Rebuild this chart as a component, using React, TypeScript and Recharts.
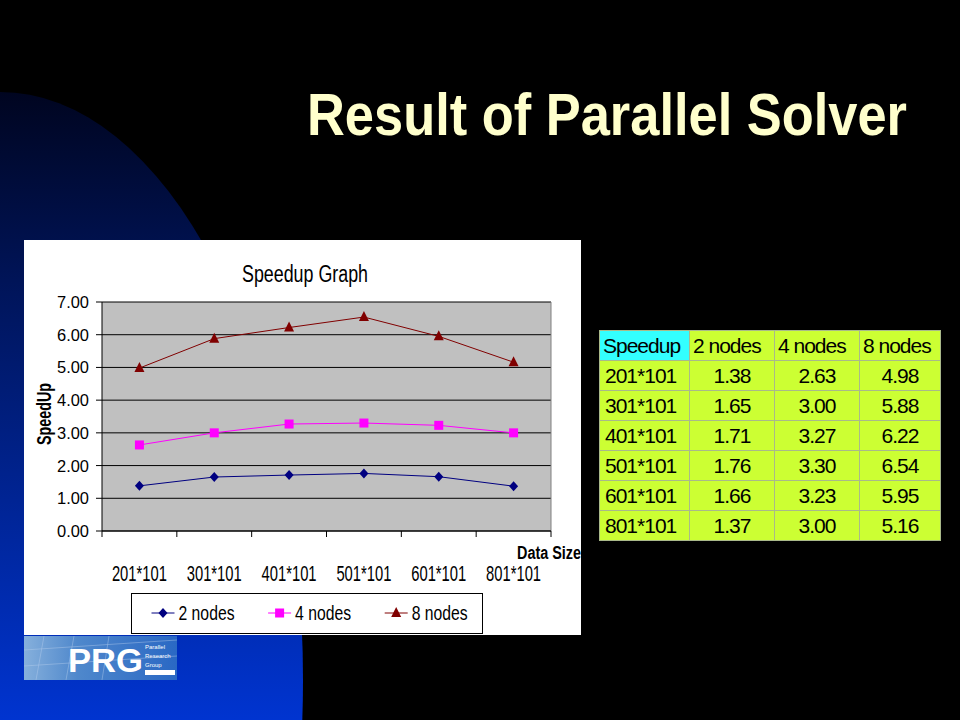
import React from 'react';
import { LineChart, Line, XAxis, YAxis, CartesianGrid, ReferenceLine } from 'recharts';

const dataSizes = ['201*101', '301*101', '401*101', '501*101', '601*101', '801*101'];
const nodes2 = [1.38, 1.65, 1.71, 1.76, 1.66, 1.37];
const nodes4 = [2.63, 3.0, 3.27, 3.3, 3.23, 3.0];
const nodes8 = [4.98, 5.88, 6.22, 6.54, 5.95, 5.16];
const seriesNames = ['2 nodes', '4 nodes', '8 nodes'];
const seriesColors = ['#000080', '#ff00ff', '#800000'];
const yTicks = [0, 1, 2, 3, 4, 5, 6, 7];

const chartData = dataSizes.map((size, i) => ({
  size,
  pos: i + 0.5,
  n2: nodes2[i],
  n4: nodes4[i],
  n8: nodes8[i],
}));

// boundaries (integers) get a tick mark, centres (halves) get the label
const xTicks = Array.from({ length: dataSizes.length * 2 + 1 }, (_, k) => k / 2);

const NARROW = '"Liberation Sans Narrow", "Arial Narrow", "Liberation Sans", Arial, sans-serif';
const SANS = '"Liberation Sans", Arial, sans-serif';

function XTick(props: any) {
  const { x, y, payload } = props;
  const v = payload.value as number;
  if (Number.isInteger(v)) {
    return <line x1={x} x2={x} y1={y} y2={y + 6} stroke="#000" />;
  }
  return (
    <text
      x={x}
      y={y + 50}
      textAnchor="middle"
      fontSize={22}
      fontFamily={NARROW}
      fill="#000"
      textLength={55}
      lengthAdjust="spacingAndGlyphs"
    >
      {dataSizes[Math.floor(v)]}
    </text>
  );
}

function YTick(props: any) {
  const { x, y, payload } = props;
  return (
    <text
      x={x}
      y={y + 6}
      textAnchor="end"
      fontSize={16}
      fontFamily={NARROW}
      fill="#000"
      textLength={32}
      lengthAdjust="spacingAndGlyphs"
    >
      {(payload.value as number).toFixed(2)}
    </text>
  );
}

function Marker({ kind, cx, cy, color }: { kind: number; cx: number; cy: number; color: string }) {
  if (kind === 0) {
    return <polygon points={`${cx},${cy - 5} ${cx + 4.5},${cy} ${cx},${cy + 5} ${cx - 4.5},${cy}`} fill={color} />;
  }
  if (kind === 1) {
    return <rect x={cx - 4.5} y={cy - 4.5} width={9} height={9} fill={color} />;
  }
  return <polygon points={`${cx},${cy - 6} ${cx + 5},${cy + 4} ${cx - 5},${cy + 4}`} fill={color} />;
}

const makeDot = (kind: number) => (p: any) => (
  <Marker key={`${kind}-${p.index}`} kind={kind} cx={p.cx} cy={p.cy} color={seriesColors[kind]} />
);

function SpeedupChart() {
  return (
    <div style={{ position: 'absolute', left: 24, top: 240, width: 557, height: 395, background: '#fff' }}>
      <LineChart
        width={557}
        height={395}
        data={chartData}
        margin={{ top: 62, right: 30, bottom: 0, left: 0 }}
      >
        <CartesianGrid vertical={false} stroke="#000" fill="#c0c0c0" fillOpacity={1} />
        <XAxis
          dataKey="pos"
          type="number"
          domain={[0, dataSizes.length]}
          ticks={xTicks}
          interval={0}
          height={104}
          tickSize={0}
          tickMargin={0}
          tickLine={false}
          axisLine={{ stroke: '#000' }}
          tick={XTick}
        />
        <YAxis
          domain={[0, 7]}
          ticks={yTicks}
          interval={0}
          width={78}
          tickSize={6}
          tickMargin={7}
          tickLine={{ stroke: '#000' }}
          axisLine={{ stroke: '#000' }}
          tick={YTick}
        />
        <ReferenceLine x={dataSizes.length} stroke="#808080" />
        <Line dataKey="n2" name={seriesNames[0]} stroke={seriesColors[0]} strokeWidth={1} dot={makeDot(0)} isAnimationActive={false} />
        <Line dataKey="n4" name={seriesNames[1]} stroke={seriesColors[1]} strokeWidth={1} dot={makeDot(1)} isAnimationActive={false} />
        <Line dataKey="n8" name={seriesNames[2]} stroke={seriesColors[2]} strokeWidth={1} dot={makeDot(2)} isAnimationActive={false} />
      </LineChart>

      {/* titles and legend, drawn over the chart box */}
      <svg
        width={557}
        height={395}
        style={{ position: 'absolute', left: 0, top: 0, overflow: 'visible', pointerEvents: 'none' }}
      >
        <text x={281} y={42} textAnchor="middle" fontSize={23} fontFamily={NARROW} textLength={126} lengthAdjust="spacingAndGlyphs">
          Speedup Graph
        </text>
        <text
          transform="translate(27,174) rotate(-90)"
          textAnchor="middle"
          fontSize={20}
          fontWeight="bold"
          fontFamily={NARROW}
          textLength={62}
          lengthAdjust="spacingAndGlyphs"
        >
          SpeedUp
        </text>
        <text x={493} y={319} fontSize={18} fontWeight="bold" fontFamily={NARROW} textLength={64} lengthAdjust="spacingAndGlyphs">
          Data Size
        </text>
        <rect x={107.5} y={353.5} width={351} height={40} fill="#fff" stroke="#000" />
        {seriesNames.map((name, i) => {
          const x0 = 127.5 + i * 116.6;
          return (
            <g key={name}>
              <line x1={x0} x2={x0 + 23} y1={373} y2={373} stroke={seriesColors[i]} />
              <Marker kind={i} cx={x0 + 11.5} cy={373} color={seriesColors[i]} />
              <text x={x0 + 27} y={380} fontSize={21} fontFamily={NARROW} textLength={56} lengthAdjust="spacingAndGlyphs">
                {name}
              </text>
            </g>
          );
        })}
      </svg>
    </div>
  );
}

const cellBorder = '1px solid #a9b98a';

function SpeedupTable() {
  const colWidths = [90, 85, 85, 81];
  return (
    <table
      style={{
        position: 'absolute',
        left: 599,
        top: 330,
        borderCollapse: 'collapse',
        tableLayout: 'fixed',
        background: '#ccff33',
        fontFamily: SANS,
        fontSize: 21,
        color: '#000',
        letterSpacing: -1,
      }}
    >
      <colgroup>
        {colWidths.map((w, i) => (
          <col key={i} style={{ width: w }} />
        ))}
      </colgroup>
      <tbody>
        <tr style={{ height: 30 }}>
          <td style={{ border: cellBorder, background: '#33ffff', padding: '0 0 0 3px', whiteSpace: 'nowrap', overflow: 'hidden' }}>Speedup</td>
          {seriesNames.map((n) => (
            <td key={n} style={{ border: cellBorder, padding: '0 0 0 3px', whiteSpace: 'nowrap', overflow: 'hidden' }}>
              {n}
            </td>
          ))}
        </tr>
        {dataSizes.map((size, i) => (
          <tr key={size} style={{ height: 30 }}>
            <td style={{ border: cellBorder, padding: '0 0 0 5px', whiteSpace: 'nowrap', overflow: 'hidden' }}>{size}</td>
            {[nodes2, nodes4, nodes8].map((s, k) => (
              <td key={k} style={{ border: cellBorder, padding: 0, textAlign: 'center' }}>
                {s[i].toFixed(2)}
              </td>
            ))}
          </tr>
        ))}
      </tbody>
    </table>
  );
}

function Logo() {
  return (
    <div
      style={{
        position: 'absolute',
        left: 24,
        top: 636,
        width: 153,
        height: 44,
        overflow: 'hidden',
        background: 'linear-gradient(90deg, #86b0dc 0%, #4f88cc 35%, #2a68c4 100%)',
        fontFamily: SANS,
      }}
    >
      <svg width={153} height={44} style={{ position: 'absolute', left: 0, top: 0 }}>
        <g stroke="#b8d0ee" strokeWidth={0.6} opacity={0.7}>
          <line x1={0} y1={14} x2={153} y2={4} />
          <line x1={0} y1={30} x2={153} y2={20} />
          <line x1={20} y1={0} x2={12} y2={44} />
          <line x1={50} y1={0} x2={42} y2={44} />
          <line x1={85} y1={0} x2={78} y2={44} />
        </g>
        <text x={44} y={36} fontSize={33} fontWeight="bold" fill="#fff" fontFamily={SANS} textLength={75} lengthAdjust="spacingAndGlyphs">
          PRG
        </text>
        <text x={121} y={13} fontSize={6} fill="#fff" fontFamily={SANS}>Parallel</text>
        <text x={121} y={22} fontSize={6} fill="#fff" fontFamily={SANS}>Research</text>
        <text x={121} y={31} fontSize={6} fill="#fff" fontFamily={SANS}>Group</text>
        <rect x={121} y={34} width={30} height={5} fill="#fff" />
      </svg>
    </div>
  );
}

export default function App() {
  return (
    <div style={{ position: 'fixed', left: 0, top: 0, width: 960, height: 720, background: '#000', overflow: 'hidden' }}>
      <svg width={960} height={720} style={{ position: 'absolute', left: 0, top: 0 }}>
        <defs>
          <linearGradient id="bgBlue" x1="0" y1="92" x2="0" y2="720" gradientUnits="userSpaceOnUse">
            <stop offset="0" stopColor="#000520" />
            <stop offset="0.3" stopColor="#001458" />
            <stop offset="1" stopColor="#0034d0" />
          </linearGradient>
        </defs>
        <ellipse cx={0} cy={680} rx={303} ry={588} fill="url(#bgBlue)" />
        <g transform="translate(307,135) scale(1,1.15)">
          <text
            x={0}
            y={0}
            fontSize={52}
            fontWeight="bold"
            fill="#ffffcc"
            fontFamily={SANS}
            textLength={600}
            lengthAdjust="spacingAndGlyphs"
          >
            Result of Parallel Solver
          </text>
        </g>
      </svg>
      <SpeedupChart />
      <SpeedupTable />
      <Logo />
    </div>
  );
}
